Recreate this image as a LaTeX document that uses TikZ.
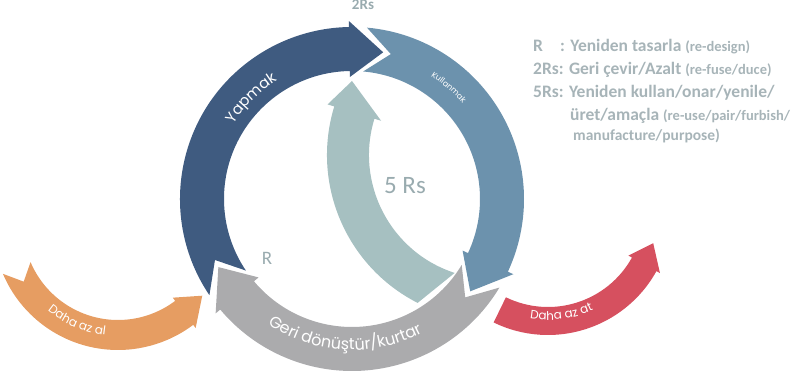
\documentclass[tikz,border=0pt]{standalone}
\usepackage{fontspec}
\setmainfont{Carlito}
\newfontfamily\roundfont{Poppins}
\usetikzlibrary{decorations.text}
\definecolor{CEDark}{HTML}{3F5B80}
\definecolor{CESteel}{HTML}{6C92AD}
\definecolor{CEGray}{HTML}{ABABAD}
\definecolor{CETeal}{HTML}{A6C0C1}
\definecolor{CEOrange}{HTML}{E69D62}
\definecolor{CERed}{HTML}{D6505F}
\definecolor{CEInk}{HTML}{A7B4B8}
\definecolor{CEMark}{HTML}{99ABAF}
\tikzset{
  legend/.style={text=CEInk,font=\fontsize{17.5}{20}\selectfont\bfseries,
                 anchor=base west,inner sep=0pt},
  rlabel/.style={text=CEMark,inner sep=0pt},
  ontext/.style={decorate,decoration={text along path,text align=center,
                 text color=white,text={#1}}},
}
\newcommand{\legsmall}{\fontsize{14.5}{16}\selectfont}
% #1 colour, #2 centre, #3 radius, #4 half band, #5 half head,
% #6 tail angle, #7 notch angle, #8 head base angle, #9 tip angle
\newcommand{\cyclearrow}[9]{%
  \begin{scope}[shift={#2}]
    \fill[#1] ({#6}:{#3+#4}) arc[start angle=#6,end angle=#8,radius={#3+#4}]
      -- ({#8}:{#3+#5}) -- ({#9}:{#3}) -- ({#8}:{#3-#5}) -- ({#8}:{#3-#4})
      arc[start angle=#8,end angle=#6,radius={#3-#4}] -- ({#7}:{#3}) -- cycle;
  \end{scope}%
}

\begin{document}
\begin{tikzpicture}[x=1pt,y=1pt]
  \useasboundingbox (0,0) rectangle (812,379);

  % inner loop
  \begin{scope}[shift={(493,224)}]
    \fill[CETeal] (243:166) arc[start angle=243,end angle=163,radius=166]
      -- (163:173) -- (-141,74) -- (163:117) -- (163:124)
      arc[start angle=163,end angle=252,radius=124] -- cycle;
  \end{scope}

  % main cycle
  \cyclearrow{CEDark}{(352,180)}{150}{22}{28}{214}{204}{91}{78}
  \cyclearrow{CESteel}{(352,180)}{150}{22}{28}{85}{75}{-25}{-38}
  \cyclearrow{CEGray}{(352,180)}{150}{22}{28}{-31}{-41}{-140}{-153}
  % in and out
  \cyclearrow{CEOrange}{(118,154)}{110}{15}{19}{203}{211}{307}{320}
  \cyclearrow{CERed}{(548,168)}{110}{14}{18}{244}{244}{331}{343}

  \begin{scope}[shift={(352,180)}]
    \path[ontext={|\roundfont\fontsize{15}{17}\selectfont|Yapmak}]
      (167:140) arc[start angle=167,end angle=103,radius=140];
    \path[ontext={|\roundfont\fontsize{8}{9}\selectfont|Kullanmak}]
      (72:146) arc[start angle=72,end angle=26,radius=146];
    \path[ontext={|\roundfont\fontsize{16}{18}\selectfont|Geri dönüştür/kurtar}]
      (220:151) arc[start angle=220,end angle=314,radius=151];
  \end{scope}
  \path[shift={(118,154)},ontext={|\roundfont\fontsize{12}{14}\selectfont|Daha az al}]
    (212:111) arc[start angle=212,end angle=282,radius=111];
  \path[shift={(548,168)},ontext={|\roundfont\fontsize{12}{14}\selectfont|Daha az at}]
    (242:109) arc[start angle=242,end angle=313,radius=109];

  \node[rlabel,font=\fontsize{15}{17}\selectfont\bfseries] (twoRs) at (363,374) {2Rs};
  \node[rlabel,font=\fontsize{19}{21}\selectfont] (oneR) at (267,121) {R};
  \node[rlabel,font=\fontsize{25}{28}\selectfont] (fiveRs) at (405,193) {5 Rs};

  % legend
  \node[legend] (legR) at (533,327) {R};
  \node[legend] (legRtxt) at (560,327) {: Yeniden tasarla {\legsmall (re-design)}};
  \node[legend] (leg2R) at (533,304) {2Rs: Geri çevir/Azalt {\legsmall (re-fuse/duce)}};
  \node[legend] (leg5R) at (533,281) {5Rs: Yeniden kullan/onar/yenile/};
  \node[legend] (leg5Rb) at (570,258) {üret/amaçla {\legsmall (re-use/pair/furbish/}};
  \node[legend,font=\fontsize{15.5}{17}\selectfont\bfseries] (leg5Rc) at (573,238) {manufacture/purpose)};
\end{tikzpicture}
\end{document}
